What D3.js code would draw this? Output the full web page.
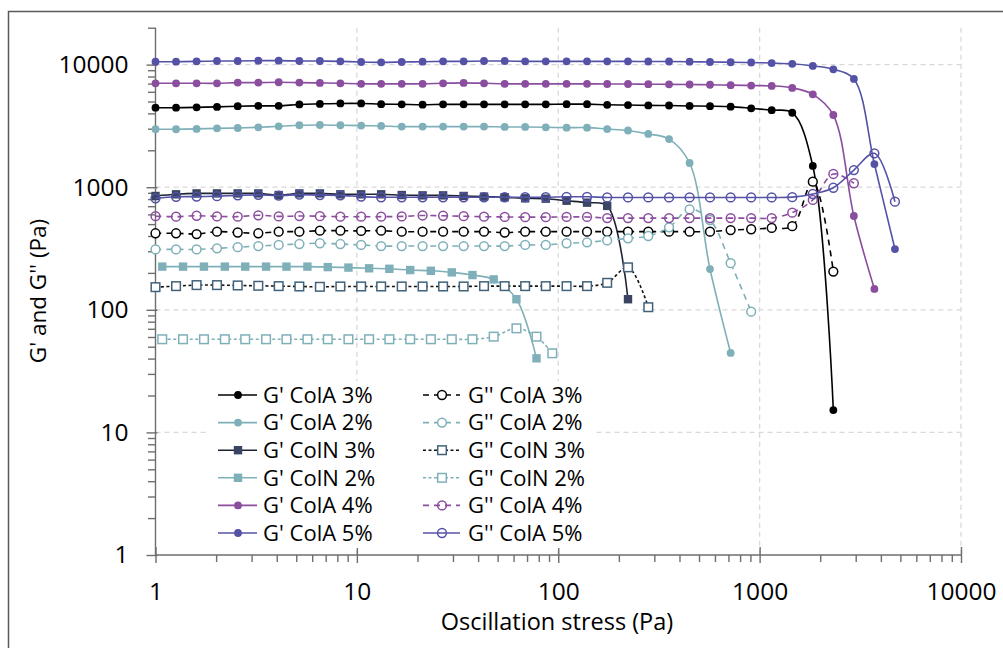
<!DOCTYPE html>
<html><head><meta charset="utf-8">
<script src="https://cdn.jsdelivr.net/npm/d3@7"></script>
<style>
html,body{margin:0;padding:0;background:#fff;}
svg{display:block;font-family:"Open Sans",sans-serif;}
</style></head>
<body><svg id="chart" width="1003" height="648"></svg>
<script>
// ---------- data ----------
const stressA = [1.00,1.265,1.60,2.02,2.56,3.24,4.09,5.18,6.55,8.28,10.5,13.2,16.7,21.2,26.8,33.9,42.8,54.2,68.5,86.7,110,139,175,222,280,355,449,567,718,908,1148,1452,1837,2323,2938,3715,4699];
const stressN2 = [1.08,1.37,1.74,2.21,2.79,3.54,4.47,5.68,7.17,9.08,11.5,14.5,18.4,23.3,29.6,37.5,47.8,62.0,78.0,93.4];

const gpColA3 = [4450,4450,4480,4520,4580,4610,4610,4730,4780,4820,4820,4760,4740,4710,4740,4740,4740,4740,4740,4740,4760,4760,4700,4680,4650,4640,4600,4580,4540,4400,4250,4050,1490,15.2];
const gpColA2 = [2970,2970,2990,3020,3040,3080,3140,3200,3215,3200,3180,3160,3120,3120,3120,3120,3120,3100,3100,3080,3060,3060,2980,2900,2720,2470,1575,215,44.5];
const gpColN3 = [848,875,890,890,890,890,863,890,890,875,875,875,863,858,858,848,838,828,812,806,776,748,704,122];
const gpColN2 = [225,225,225,225,225,225,225,225,223,221,218,216,211,208,202,192,177,122,40.2];
const gpColA4 = [7040,7040,7040,7040,7130,7130,7180,7130,7090,7040,6970,6970,6970,6970,7040,7090,7040,6970,6970,6970,6970,6970,6950,6950,6920,6900,6880,6850,6800,6750,6700,6450,5720,3880,582,148];
const gpColA5 = [10565,10565,10630,10700,10700,10770,10770,10700,10700,10630,10500,10435,10500,10565,10630,10630,10700,10700,10630,10630,10630,10630,10630,10630,10600,10600,10560,10500,10450,10400,10300,10150,9750,9160,7640,1545,313];

const gppColA3 = [421,421,415,434,427,421,434,434,442,442,440,442,434,434,434,434,434,427,434,434,434,434,434,434,434,434,434,434,447,454,465,481,1110,205];
const gppColA2 = [311,311,311,317,324,331,338,344,349,344,338,331,331,331,331,331,331,331,338,338,349,355,368,383,400,471,660,540,240,96.6];
const gppColN3 = [153,156,159,159,158,157,156,155,154,155,155,155,155,155,155,155,156,156,156,156,156,156,166,222,105];
const gppColN2 = [57.5,57.5,57.5,57.5,57.5,57.5,57.5,57.5,57.5,57.5,57.5,57.5,57.5,57.5,57.5,57.5,60.4,70.6,60.4,44.2];
const gppColA4 = [580,575,585,578,575,590,578,582,580,575,575,575,578,588,585,580,575,572,570,570,572,572,560,560,560,560,560,560,560,560,560,620,787,1282,1077];
const gppColA5 = [812,835,838,845,858,866,855,870,862,858,838,828,828,828,828,828,828,828,828,828,835,835,825,825,825,825,825,825,825,825,825,830,880,990,1380,1890,762];

const xMajorTicks = [1,10,100,1000,10000];
const yMajorTicks = [1,10,100,1000,10000];
const xTitle = "Oscillation stress (Pa)";
const yTitle = "G' and G'' (Pa)";

// ---------- styling ----------
const C = {black:"#000000", teal:"#7fb0b9", navy:"#3a4563", slate:"#41627a", purple:"#8b4d9e", blue:"#5452a6"};
const series = [
  {name:"G' ColA 3%", x:stressA, y:gpColA3, line:C.black, mark:"circle", fill:C.black, stroke:C.black, dash:null},
  {name:"G' ColA 2%", x:stressA, y:gpColA2, line:C.teal, mark:"circle", fill:C.teal, stroke:C.teal, dash:null},
  {name:"G' ColN 3%", x:stressA, y:gpColN3, line:"#1e2433", mark:"square", fill:C.navy, stroke:C.navy, dash:null},
  {name:"G' ColN 2%", x:stressN2, y:gpColN2, line:C.teal, mark:"square", fill:C.teal, stroke:C.teal, dash:null},
  {name:"G' ColA 4%", x:stressA, y:gpColA4, line:C.purple, mark:"circle", fill:C.purple, stroke:C.purple, dash:null},
  {name:"G' ColA 5%", x:stressA, y:gpColA5, line:C.blue, mark:"circle", fill:C.blue, stroke:C.blue, dash:null},
  {name:"G'' ColA 3%", x:stressA, y:gppColA3, line:C.black, mark:"ocircle", fill:"#fff", stroke:C.black, dash:"6,5"},
  {name:"G'' ColA 2%", x:stressA, y:gppColA2, line:C.teal, mark:"ocircle", fill:"#fff", stroke:C.teal, dash:"6,5"},
  {name:"G'' ColN 3%", x:stressA, y:gppColN3, line:"#111", mark:"osquare", fill:"#fff", stroke:C.slate, dash:"3,2.5"},
  {name:"G'' ColN 2%", x:stressN2, y:gppColN2, line:C.teal, mark:"osquare", fill:"#fff", stroke:C.teal, dash:"3,2.5"},
  {name:"G'' ColA 4%", x:stressA, y:gppColA4, line:C.purple, mark:"ocircle", fill:"none", stroke:C.purple, dash:"6,5"},
  {name:"G'' ColA 5%", x:stressA, y:gppColA5, line:C.blue, mark:"ocircle", fill:"none", stroke:C.blue, dash:null}
];

const svg = d3.select("#chart");
const x = d3.scaleLog().domain([1,10000]).range([155.5,961]);
const y = d3.scaleLog().domain([1,20000]).range([555,27.7]);
const axisCol = "#6e6e6e";

// outer frame
svg.append("rect").attr("x",8.5).attr("y",11.5).attr("width",1100).attr("height",800)
  .attr("fill","#fff").attr("stroke","#5a5a5a").attr("stroke-width",1.5);

// grid
const g = svg.append("g");
g.selectAll(".hg").data(yMajorTicks.slice(1)).join("line")
  .attr("x1",x(1)).attr("x2",x(10000)).attr("y1",d=>y(d)).attr("y2",d=>y(d))
  .attr("stroke","#d9d9d9").attr("stroke-width",1.3).attr("stroke-dasharray","5,4");
g.selectAll(".vg").data(xMajorTicks.slice(1)).join("line")
  .attr("y1",y(20000)).attr("y2",y(1)).attr("x1",d=>x(d)).attr("x2",d=>x(d))
  .attr("stroke","#d9d9d9").attr("stroke-width",1.3).attr("stroke-dasharray","5,4");

// minor tick values
const minorX = [], minorY = [];
for (let e=0;e<4;e++) for (let k=2;k<=9;k++) minorX.push(k*Math.pow(10,e));
for (let e=0;e<4;e++) for (let k=2;k<=9;k++) minorY.push(k*Math.pow(10,e));
minorY.push(20000);

// x axis
const xa = svg.append("g").attr("transform",`translate(0,${y(1)})`);
xa.call(d3.axisBottom(x).tickValues(minorX).tickSize(7).tickFormat(""));
const xaM = svg.append("g").attr("transform",`translate(0,${y(1)})`);
xaM.call(d3.axisBottom(x).tickValues(xMajorTicks).tickSize(8).tickPadding(20).tickFormat(d3.format("d")));
xaM.selectAll(".tick line").attr("y1",-8);
[xa,xaM].forEach(s=>{s.selectAll("path,line").attr("stroke",axisCol).attr("stroke-width",1.4);});
xa.select(".domain").attr("d",`M${x(1)},0H${x(10000)}`);
xaM.select(".domain").remove();
xaM.selectAll("text").attr("font-size",24.5).attr("fill","#000").attr("font-family","Open Sans");

// y axis
const ya = svg.append("g").attr("transform",`translate(${x(1)},0)`);
ya.call(d3.axisLeft(y).tickValues(minorY).tickSize(7.5).tickFormat(""));
const yaM = svg.append("g").attr("transform",`translate(${x(1)},0)`);
yaM.call(d3.axisLeft(y).tickValues(yMajorTicks).tickSize(9).tickPadding(18).tickFormat(d3.format("d")));
yaM.selectAll(".tick line").attr("x1",2);
[ya,yaM].forEach(s=>{s.selectAll("path,line").attr("stroke",axisCol).attr("stroke-width",1.4);});
ya.select(".domain").attr("d",`M0,${y(1)}V${y(20000)}`);
yaM.select(".domain").remove();
yaM.selectAll("text").attr("font-size",24.5).attr("fill","#000").attr("font-family","Open Sans");

// titles
svg.append("text").attr("x",557).attr("y",630).attr("text-anchor","middle")
  .attr("font-size",23.5).text(xTitle);
svg.append("text").attr("transform","translate(46,291) rotate(-90)").attr("text-anchor","middle")
  .attr("font-size",22.5).text(yTitle);

// series
const line = d3.line().curve(d3.curveCatmullRom.alpha(0.5)).x(d=>x(d[0])).y(d=>y(d[1]));
function drawMarker(sel, s){
  if (s.mark==="circle") sel.append("circle").attr("r",3.9).attr("fill",s.fill).attr("stroke","none");
  else if (s.mark==="ocircle") sel.append("circle").attr("r",4.4).attr("fill",s.fill).attr("stroke",s.stroke).attr("stroke-width",1.5);
  else if (s.mark==="square") sel.append("rect").attr("x",-4.2).attr("y",-4.2).attr("width",8.4).attr("height",8.4).attr("fill",s.fill);
  else sel.append("rect").attr("x",-4.3).attr("y",-4.3).attr("width",8.6).attr("height",8.6).attr("fill",s.fill).attr("stroke",s.stroke).attr("stroke-width",1.5);
}
const plot = svg.append("g");
series.forEach(s=>{
  const pts = s.y.map((v,i)=>[s.x[i],v]);
  const gs = plot.append("g");
  gs.append("path").attr("d",line(pts)).attr("fill","none").attr("stroke",s.line)
    .attr("stroke-width",1.6).attr("stroke-dasharray",s.dash);
  gs.selectAll("g.m").data(pts).join("g").attr("class","m")
    .attr("transform",d=>`translate(${x(d[0])},${y(d[1])})`)
    .each(function(){drawMarker(d3.select(this), s);});
});

// legend
const lg = svg.append("g");
lg.append("rect").attr("x",208).attr("y",381).attr("width",386).attr("height",167).attr("fill","#fff");
series.forEach((s,i)=>{
  const col = Math.floor(i/6), row = i%6;
  const x0 = col===0 ? 218 : 423, x1 = col===0 ? 257 : 460, mx = col===0 ? 238 : 442, tx = col===0 ? 263 : 468;
  const yy = 395 + row*27.6;
  const it = lg.append("g");
  it.append("line").attr("x1",x0).attr("x2",x1).attr("y1",yy).attr("y2",yy)
    .attr("stroke",s.line).attr("stroke-width",1.6).attr("stroke-dasharray",s.dash);
  drawMarker(it.append("g").attr("transform",`translate(${mx},${yy})`), s);
  it.append("text").attr("x",tx).attr("y",yy).attr("dy","0.35em").attr("font-size",22).text(s.name);
});
</script></body></html>
